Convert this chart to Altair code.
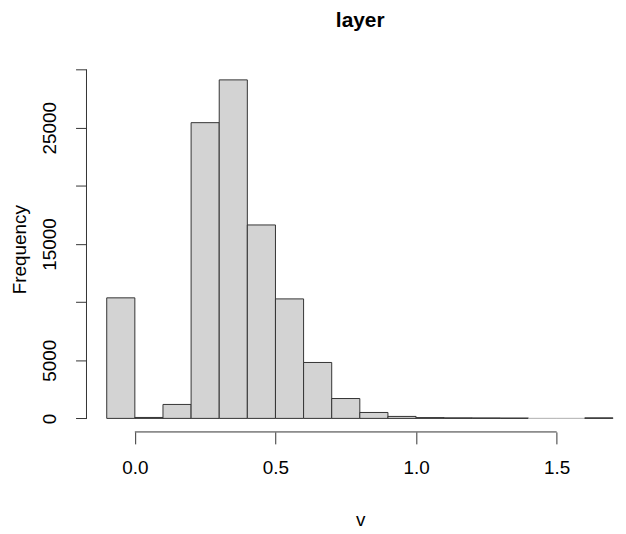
import altair as alt
import pandas as pd

# Histogram bins (width 0.1) and counts
bin_start = [-0.1, 0.0, 0.1, 0.2, 0.3, 0.4, 0.5, 0.6, 0.7, 0.8, 0.9, 1.0, 1.1, 1.2, 1.3, 1.4, 1.5, 1.6]
bin_end = [0.0, 0.1, 0.2, 0.3, 0.4, 0.5, 0.6, 0.7, 0.8, 0.9, 1.0, 1.1, 1.2, 1.3, 1.4, 1.5, 1.6, 1.7]
counts = [10370, 80, 1200, 25440, 29120, 16640, 10280, 4810, 1710, 510, 170, 70, 50, 40, 30, 0, 0, 50]

x_ticks = [0.0, 0.5, 1.0, 1.5]
y_ticks = [0, 5000, 10000, 15000, 20000, 25000, 30000]
y_labels = [0, 5000, 15000, 25000]

W, H = 533, 368
x_dom = [-0.172, 1.711]
y_dom = [-1165, 30285]

df = pd.DataFrame({"start": bin_start, "end": bin_end, "count": counts})
df["zero"] = df["count"] == 0

xs = alt.Scale(domain=x_dom, nice=False, zero=False)
ys = alt.Scale(domain=y_dom, nice=False, zero=False)

FONT = "Liberation Sans"
label_test = " || ".join(f"datum.value == {v}" for v in y_labels)

bars = alt.Chart(df).mark_rect(fill="#D3D3D3", strokeWidth=1).encode(
    x=alt.X("start:Q", scale=xs,
            axis=alt.Axis(values=x_ticks, format=".1f", domain=False, grid=False,
                          tickSize=12, tickColor="#333333", labelFontSize=19,
                          labelFont=FONT, labelColor="#000000", labelPadding=15,
                          title="v", titleFont=FONT, titleFontSize=19,
                          titleFontWeight="normal", titleColor="#000000",
                          titleBaseline="alphabetic", titleY=94, titleX=W / 2 + 9)),
    x2="end:Q",
    y=alt.Y("count:Q", scale=ys,
            axis=alt.Axis(values=y_ticks, domain=False, grid=False,
                          labelExpr=f"({label_test}) ? format(datum.value, 'd') : ''",
                          tickSize=11, tickColor="#333333", labelFontSize=19,
                          labelFont=FONT, labelColor="#000000", labelAngle=270,
                          labelAlign="center", labelBaseline="alphabetic",
                          labelPadding=20, labelOverlap=False,
                          title="Frequency", titleFont=FONT, titleFontSize=19,
                          titleFontWeight="normal", titleColor="#000000",
                          titleAngle=270, titleAlign="center",
                          titleBaseline="alphabetic", titleX=-61, titleY=H / 2)),
    y2=alt.datum(0),
    stroke=alt.condition("datum.zero", alt.value("#BBBBBB"), alt.value("#333333")),
)

yaxis_df = pd.DataFrame({"lo": [y_ticks[0]], "hi": [y_ticks[-1]]})
xaxis_df = pd.DataFrame({"lo": [x_ticks[0]], "hi": [x_ticks[-1]]})

y_line = alt.Chart(yaxis_df).mark_rule(color="#333333", strokeWidth=1).encode(
    x=alt.value(0), y=alt.Y("lo:Q", scale=ys), y2="hi:Q")
x_line = alt.Chart(xaxis_df).mark_rule(color="#333333", strokeWidth=1).encode(
    y=alt.value(H), x=alt.X("lo:Q", scale=xs), x2="hi:Q")

chart = alt.layer(bars, y_line, x_line).properties(
    width=W, height=H,
    title=alt.TitleParams("layer", font=FONT, fontSize=21, fontWeight="bold",
                          color="#000000", anchor="middle", dx=9, offset=36),
    padding={"left": 79, "top": 57, "right": 2, "bottom": 100},
    autosize="none",
    background="white",
).configure_view(stroke=None, strokeWidth=0)

chart.save("out.html", embed_options={"renderer": "svg", "actions": False})
